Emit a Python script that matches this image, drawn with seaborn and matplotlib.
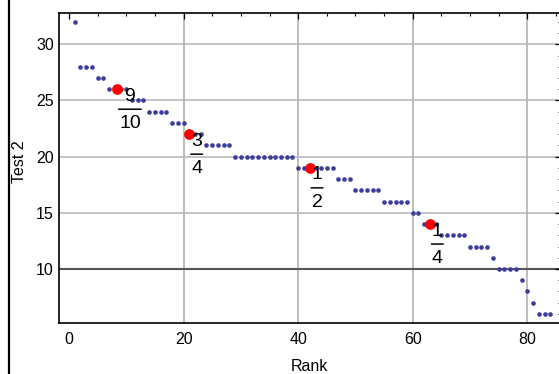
import numpy as np
import pandas as pd
import matplotlib
matplotlib.use("Agg")
import matplotlib.pyplot as plt
import matplotlib.transforms as mtransforms
from matplotlib.lines import Line2D
from matplotlib.ticker import MultipleLocator
import seaborn as sns

# --- data ---
test2 = [32,
         28, 28, 28,
         27, 27,
         26, 26, 26, 26,
         25, 25, 25,
         24, 24, 24, 24,
         23, 23, 23,
         22, 22, 22,
         21, 21, 21, 21, 21,
         20, 20, 20, 20, 20, 20, 20, 20, 20, 20, 20,
         19, 19, 19, 19, 19, 19, 19,
         18, 18, 18,
         17, 17, 17, 17, 17,
         16, 16, 16, 16, 16,
         15, 15,
         14, 14, 14,
         13, 13, 13, 13, 13,
         12, 12, 12, 12,
         11,
         10, 10, 10, 10,
         9, 8, 7,
         6, 6, 6]
rank = np.arange(1, len(test2) + 1)

q_rank = [8.4, 21, 42, 63]
q_value = [26, 22, 19, 14]
q_num = ["9", "3", "1", "1"]
q_den = ["10", "4", "2", "4"]

x_grid = [20, 40, 60, 80]
y_grid = [15, 20, 25, 30]

df = pd.DataFrame({"Rank": rank, "Test 2": test2})
qdf = pd.DataFrame({"Rank": q_rank, "Test 2": q_value})

sns.set_theme(style="white")
plt.rcParams["font.family"] = ["Liberation Sans", "DejaVu Sans"]

W, H = 559, 374
fig = plt.figure(figsize=(W / 100, H / 100), dpi=100)
ax = fig.add_axes([59.3 / W, 1 - 322.7 / H, (560.5 - 59.3) / W, 310 / H])

for g in x_grid:
    ax.axvline(g, color="#ababab", lw=1.1, zorder=0)
for g in y_grid:
    ax.axhline(g, color="#b4b4b4", lw=1.1, zorder=0)
ax.axhline(10, color="#555555", lw=1.5, zorder=0)

sns.scatterplot(data=df, x="Rank", y="Test 2", ax=ax, color="#3c3c9a",
                s=11, linewidth=0, zorder=3)
sns.scatterplot(data=qdf, x="Rank", y="Test 2", ax=ax, color="#ff0000",
                s=60, linewidth=0, zorder=4)

# fraction labels: numerator, bar, denominator below-right of each red point
bar_tr = mtransforms.offset_copy(ax.transData, fig=fig, x=1.5, y=-20, units="dots")
for x, y, n, d in zip(q_rank, q_value, q_num, q_den):
    w = 10.8 * len(d)
    cx = 2 + w / 2
    ax.annotate(n, (x, y), xytext=(cx, -7), textcoords="offset pixels",
                ha="center", va="center", fontsize=14, color="black", zorder=5)
    ax.annotate(d, (x, y), xytext=(cx, -34.5), textcoords="offset pixels",
                ha="center", va="center", fontsize=14, color="black", zorder=5)
    ax.annotate("", xy=(x, y), xycoords=bar_tr, xytext=(w + 1, 0),
                textcoords="offset pixels",
                arrowprops=dict(arrowstyle="-", shrinkA=0, shrinkB=0,
                                lw=1.1, color="black"), zorder=5)

ax.set_xlim(-1.69, 85.79)
ax.set_ylim(5.22, 32.81)
ax.xaxis.set_major_locator(MultipleLocator(20))
ax.xaxis.set_minor_locator(MultipleLocator(5))
ax.yaxis.set_major_locator(MultipleLocator(5))
ax.yaxis.set_minor_locator(MultipleLocator(1))
ax.set_yticks([10, 15, 20, 25, 30])
ax.tick_params(which="both", direction="in", top=True, right=True,
               color="black", labelsize=11.5, labelcolor="black")
ax.tick_params(which="major", length=4.5, width=0.9)
ax.tick_params(which="minor", length=2.5, width=0.8)
ax.tick_params(axis="x", pad=7)
ax.tick_params(axis="y", pad=4)

for s in ax.spines.values():
    s.set_color("black")
    s.set_linewidth(1.2)

ax.set_xlabel("Rank", fontsize=11.5, color="black")
ax.set_ylabel("Test 2", fontsize=11.5, color="black")
ax.xaxis.set_label_coords(0.5, -(359 - 322.7) / 310)
ax.xaxis.label.set_va("top")
ax.yaxis.set_label_coords(-(59.3 - 27) / (560.5 - 59.3), 0.52)

fig.add_artist(Line2D([8.6 / W, 8.6 / W], [0, 1], color="black", lw=1.6))

fig.savefig("out.png", dpi=100)
